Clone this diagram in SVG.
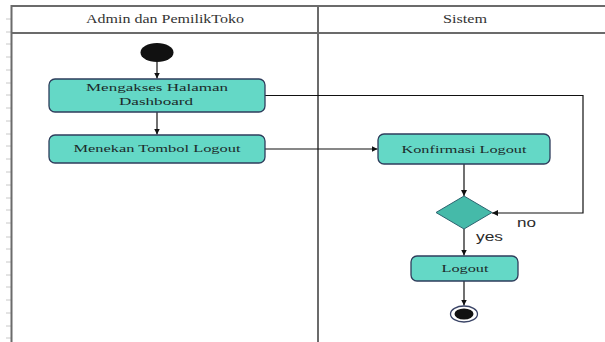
<svg xmlns="http://www.w3.org/2000/svg" width="605" height="342" viewBox="0 0 605 342">
<style>
.frame{fill:none;stroke:#6b6b6b;stroke-width:2}
.tick{stroke:#c8c8c8;stroke-width:1}
.act{fill:#64d8c6;stroke:#2e3d5c;stroke-width:1.3}
.lbl{font-family:"Liberation Serif","Times New Roman",serif;font-size:11px;fill:#1c2b2b}
.hdr{font-family:"Liberation Serif","Times New Roman",serif;font-size:12px;fill:#333}
.guard{font-family:"Liberation Sans",Arial,sans-serif;font-size:12px;fill:#2b2b2b}
.conn{fill:none;stroke:#111;stroke-width:1.2}
</style>
<defs>
<marker id="arr" viewBox="0 0 10 10" refX="10" refY="5" markerWidth="6" markerHeight="6" orient="auto" markerUnits="userSpaceOnUse">
<path d="M0,0 L10,5 L0,10 z" fill="#111"/>
</marker>
</defs>
<rect width="605" height="342" fill="#fff"/>
<g id="ruler">
<path class="tick" d="M6,19H11M6,32H11M6,44H11M6,57H11M6,70H11M6,83H11M6,95H11M6,108H11M6,121H11M6,134H11M6,146H11M6,159H11M6,172H11M6,185H11M6,198H11M6,210H11M6,223H11M6,237H11M6,249H11M6,262H11M6,275H11M6,287H11M6,300H11M6,313H11M6,326H11M6,338H11"/>
</g>
<g id="swimlanes">
<path class="frame" d="M11.5,345V6H605M11.5,33H605M318,6V345"/>
<text class="hdr" x="165" y="23" text-anchor="middle" textLength="158" lengthAdjust="spacingAndGlyphs">Admin dan PemilikToko</text>
<text class="hdr" x="465" y="23" text-anchor="middle" textLength="44" lengthAdjust="spacingAndGlyphs">Sistem</text>
</g>
<g id="connectors">
<path class="conn" d="M157,62V78.5" marker-end="url(#arr)"/>
<path class="conn" d="M157,112V134.5" marker-end="url(#arr)"/>
<path class="conn" d="M265,95.5H583V213H492" marker-end="url(#arr)"/>
<path class="conn" d="M265,149H377.5" marker-end="url(#arr)"/>
<path class="conn" d="M464,164V196" marker-end="url(#arr)"/>
<path class="conn" d="M464,229V255.5" marker-end="url(#arr)"/>
<path class="conn" d="M464,281V305.5" marker-end="url(#arr)"/>
<text class="guard" x="517" y="227" textLength="19" lengthAdjust="spacingAndGlyphs">no</text>
<text class="guard" x="476" y="241" textLength="27" lengthAdjust="spacingAndGlyphs">yes</text>
</g>
<g id="start">
<ellipse cx="157" cy="52.5" rx="16.5" ry="9.5" fill="#111"/>
</g>
<g id="mengakses">
<rect class="act" x="49" y="79" width="216" height="33" rx="6"/>
<text class="lbl" x="157" y="91" text-anchor="middle" textLength="142" lengthAdjust="spacingAndGlyphs">Mengakses Halaman</text>
<text class="lbl" x="156" y="104.5" text-anchor="middle" textLength="74" lengthAdjust="spacingAndGlyphs">Dashboard</text>
</g>
<g id="menekan">
<rect class="act" x="49" y="135" width="216" height="28" rx="6"/>
<text class="lbl" x="157" y="152" text-anchor="middle" textLength="167" lengthAdjust="spacingAndGlyphs">Menekan Tombol Logout</text>
</g>
<g id="konfirmasi">
<rect class="act" x="378" y="134" width="172" height="30" rx="6"/>
<text class="lbl" x="464" y="152.5" text-anchor="middle" textLength="125" lengthAdjust="spacingAndGlyphs">Konfirmasi Logout</text>
</g>
<g id="decision">
<polygon points="464,196 492,212.5 464,229 436,212.5" fill="#45baa9" stroke="#2d6470" stroke-width="1"/>
</g>
<g id="logout">
<rect class="act" x="411" y="256" width="107" height="25" rx="6"/>
<text class="lbl" x="465" y="272" text-anchor="middle" textLength="47" lengthAdjust="spacingAndGlyphs">Logout</text>
</g>
<g id="end">
<ellipse cx="464" cy="314" rx="13.5" ry="8" fill="#fff" stroke="#3a4466" stroke-width="1.3"/>
<ellipse cx="464" cy="314" rx="9.5" ry="5.5" fill="#111"/>
</g>
</svg>
